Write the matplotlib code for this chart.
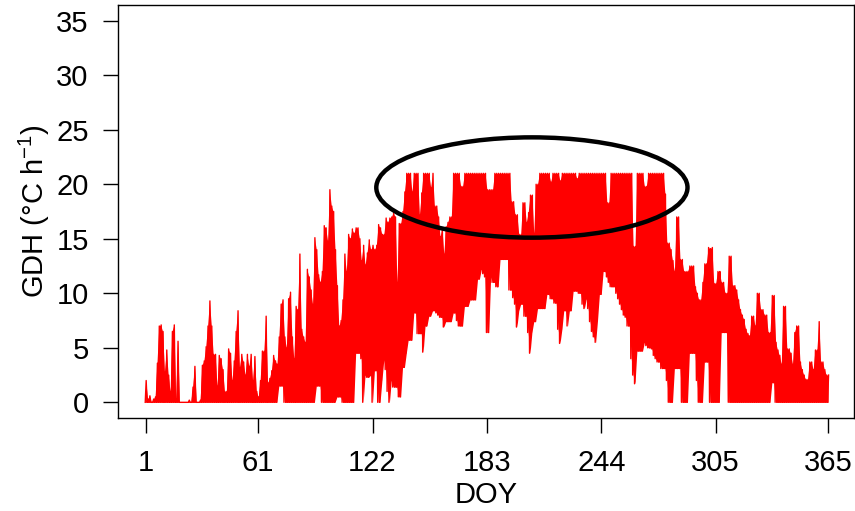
import numpy as np
import matplotlib
matplotlib.use("Agg")
import matplotlib.pyplot as plt
from matplotlib.patches import Ellipse

plt.rcParams['font.family'] = ['Liberation Sans', 'DejaVu Sans']
plt.rcParams['mathtext.fontset'] = 'custom'
plt.rcParams['mathtext.rm'] = 'Liberation Sans'
plt.rcParams['mathtext.it'] = 'Liberation Sans'

# daily upper envelope of hourly GDH, DOY 1..365
gdh_max = [
    2.0, 0.3, 0.6, 0.0, 0.3, 0.5, 3.6, 7.0, 7.1, 6.5,
    2.8, 4.8, 2.5, 1.0, 6.5, 7.1, 0.3, 5.6, 0.0, 0.0,
    0.0, 0.0, 0.0, 0.2, 0.0, 1.4, 3.3, 0.0, 0.0, 0.2,
    3.4, 3.8, 5.1, 7.0, 9.3, 7.0, 4.4, 4.4, 1.5, 4.3,
    4.0, 3.0, 1.0, 1.0, 4.9, 4.5, 2.0, 3.8, 6.5, 8.4,
    3.2, 4.4, 3.7, 2.5, 4.4, 3.3, 4.4, 2.0, 4.2, 1.0,
    0.5, 2.0, 4.7, 4.7, 7.9, 1.8, 2.2, 2.9, 4.3, 3.8,
    3.5, 6.0, 9.0, 9.4, 6.0, 5.0, 9.5, 10.1, 6.0, 4.0,
    8.8, 8.5, 13.6, 6.7, 6.0, 5.5, 12.2, 11.5, 10.3, 9.0,
    15.1, 14.0, 11.7, 11.0, 12.0, 16.2, 16.0, 14.8, 19.5, 18.0,
    17.5, 14.0, 10.7, 7.0, 7.5, 9.4, 13.6, 12.0, 15.4, 15.0,
    15.9, 15.5, 16.0, 16.0, 15.0, 13.0, 14.4, 12.6, 13.7, 14.9,
    14.0, 14.4, 14.0, 14.4, 16.3, 16.0, 15.4, 15.4, 16.9, 16.5,
    16.9, 17.0, 17.4, 17.0, 11.0, 16.4, 16.4, 17.5, 19.3, 21.0,
    21.0, 21.0, 19.3, 21.0, 21.0, 21.0, 17.2, 19.2, 21.0, 21.0,
    21.0, 21.0, 19.7, 21.0, 18.0, 18.0, 17.0, 15.2, 16.0, 13.6,
    16.1, 16.5, 17.0, 17.0, 21.0, 21.0, 21.0, 21.0, 19.8, 19.8,
    21.0, 21.0, 21.0, 21.0, 21.0, 21.0, 21.0, 21.0, 21.0, 21.0,
    21.0, 21.0, 19.5, 19.5, 19.5, 19.5, 21.0, 21.0, 21.0, 21.0,
    21.0, 21.0, 21.0, 21.0, 21.0, 18.4, 18.4, 17.2, 17.2, 15.4,
    15.4, 18.3, 18.3, 16.5, 17.4, 19.0, 19.0, 15.5, 20.0, 20.0,
    21.0, 21.0, 21.0, 21.0, 21.0, 21.0, 20.2, 21.0, 21.0, 21.0,
    21.0, 20.3, 21.0, 21.0, 21.0, 21.0, 21.0, 21.0, 21.0, 21.0,
    20.5, 21.0, 21.0, 21.0, 21.0, 21.0, 21.0, 21.0, 21.0, 21.0,
    21.0, 21.0, 21.0, 21.0, 21.0, 21.0, 18.3, 18.3, 21.0, 21.0,
    21.0, 21.0, 21.0, 21.0, 21.0, 21.0, 21.0, 21.0, 21.0, 21.0,
    14.3, 14.3, 21.0, 21.0, 21.0, 21.0, 19.8, 19.8, 21.0, 21.0,
    21.0, 21.0, 21.0, 21.0, 21.0, 21.0, 21.0, 19.1, 14.6, 14.6,
    14.0, 13.0, 12.0, 17.0, 17.0, 13.1, 13.1, 12.0, 12.0, 12.0,
    12.5, 12.5, 12.5, 10.6, 10.0, 9.4, 9.4, 11.0, 12.7, 12.7,
    14.2, 14.1, 14.2, 10.9, 10.9, 12.0, 12.0, 11.0, 11.0, 10.0,
    10.0, 13.4, 13.4, 10.7, 10.7, 10.3, 9.4, 8.5, 8.0, 7.6,
    6.7, 6.3, 6.1, 7.9, 7.9, 7.0, 10.0, 10.0, 8.5, 8.5,
    8.0, 8.0, 6.4, 6.4, 9.8, 9.8, 5.5, 4.8, 4.3, 3.5,
    8.8, 8.8, 4.9, 4.9, 4.5, 3.5, 6.4, 7.0, 7.0, 3.7,
    3.0, 2.5, 2.1, 2.1, 3.7, 3.7, 3.0, 4.8, 4.8, 7.4,
    3.7, 3.7, 3.0, 2.5, 2.5,
]

# daily lower envelope (night-time GDH)
gdh_min = [
    0.0, 0.0, 0.0, 0.0, 0.0, 0.0, 0.0, 0.0, 0.0, 0.0,
    0.0, 0.0, 0.0, 0.0, 0.0, 0.0, 0.0, 0.0, 0.0, 0.0,
    0.0, 0.0, 0.0, 0.0, 0.0, 0.0, 0.0, 0.0, 0.0, 0.0,
    0.0, 0.0, 0.0, 0.0, 0.0, 0.0, 0.0, 0.0, 0.0, 0.0,
    0.0, 0.0, 0.0, 0.0, 0.0, 0.0, 0.0, 0.0, 0.0, 0.0,
    0.0, 0.0, 0.0, 0.0, 0.0, 0.0, 0.0, 0.0, 0.0, 0.0,
    0.0, 0.0, 0.0, 0.0, 0.0, 0.0, 0.0, 0.0, 0.0, 0.0,
    0.0, 1.5, 1.5, 1.5, 0.0, 0.0, 0.0, 0.0, 0.0, 0.0,
    0.0, 0.0, 0.0, 0.0, 0.0, 0.0, 0.0, 0.0, 0.0, 0.0,
    0.0, 1.5, 1.5, 1.5, 0.0, 0.0, 0.0, 0.0, 0.0, 0.0,
    0.0, 0.0, 0.5, 0.5, 0.5, 0.0, 0.0, 0.0, 0.0, 0.0,
    0.0, 0.0, 4.5, 4.5, 4.5, 4.0, 0.0, 2.5, 2.3, 2.3,
    2.5, 0.0, 2.9, 2.9, 0.0, 0.0, 2.0, 3.9, 3.0, 1.0,
    0.0, 2.0, 1.4, 1.4, 1.4, 0.5, 0.5, 3.2, 3.2, 4.5,
    5.7, 5.7, 5.7, 8.2, 8.2, 6.3, 6.3, 6.3, 4.6, 7.0,
    7.0, 7.9, 7.9, 8.4, 8.4, 8.2, 8.0, 7.8, 7.8, 6.9,
    7.4, 7.4, 7.4, 7.4, 8.2, 8.2, 7.5, 7.0, 7.0, 7.0,
    8.8, 8.8, 8.8, 9.4, 9.4, 9.4, 9.4, 11.3, 11.3, 12.2,
    11.8, 11.5, 6.4, 6.4, 11.5, 11.0, 11.0, 10.6, 10.6, 13.1,
    13.1, 13.1, 13.1, 13.1, 10.3, 10.3, 9.6, 9.0, 6.9, 8.4,
    9.0, 9.0, 7.9, 7.9, 6.4, 4.5, 6.4, 7.4, 7.4, 8.6,
    8.6, 8.6, 8.6, 8.6, 9.9, 9.9, 9.5, 9.5, 9.1, 9.1,
    6.7, 5.4, 6.7, 8.4, 8.4, 7.0, 8.4, 8.4, 10.2, 10.2,
    10.2, 10.0, 10.0, 9.0, 8.6, 9.5, 8.6, 7.4, 6.5, 6.0,
    5.5, 7.5, 9.9, 9.9, 12.0, 12.0, 11.5, 11.0, 10.6, 10.6,
    10.6, 10.0, 9.5, 9.0, 8.5, 8.0, 7.8, 7.0, 7.0, 4.0,
    2.5, 1.7, 4.7, 4.7, 4.7, 4.7, 5.5, 5.2, 5.0, 5.0,
    4.9, 4.3, 4.0, 3.7, 3.7, 3.1, 3.1, 3.1, 2.0, 0.0,
    0.0, 0.0, 3.1, 3.1, 3.1, 3.1, 0.0, 0.0, 0.0, 0.0,
    4.5, 4.5, 4.5, 4.5, 2.0, 0.0, 0.0, 0.0, 3.7, 3.7,
    3.7, 0.0, 0.0, 0.0, 0.0, 0.0, 0.0, 6.4, 6.4, 6.4,
    6.4, 0.0, 0.0, 0.0, 0.0, 0.0, 0.0, 0.0, 0.0, 0.0,
    0.0, 0.0, 0.0, 0.0, 0.0, 0.0, 0.0, 0.0, 0.0, 0.0,
    0.0, 0.0, 0.0, 0.0, 1.8, 1.8, 0.0, 0.0, 0.0, 0.0,
    0.0, 0.0, 0.0, 0.0, 0.0, 0.0, 0.0, 0.0, 0.0, 0.0,
    0.0, 0.0, 0.0, 0.0, 0.0, 0.0, 0.0, 0.0, 0.0, 0.0,
    0.0, 0.0, 0.0, 0.0, 0.0,
]

doy = np.arange(1, len(gdh_max) + 1)
xticks = [1, 61, 122, 183, 244, 305, 365]
yticks = [0, 5, 10, 15, 20, 25, 30, 35]

# highlighted plateau (ellipse annotation)
ell_center = (207, 19.7)
ell_w, ell_h = 166, 9.2

hi = np.array(gdh_max)
lo = np.array(gdh_min)

fig = plt.figure(figsize=(8.55, 5.11), dpi=100)
ax = fig.add_axes([0.1384, 0.1828, 0.8604, 0.8066])

# hourly trace drawn as a zig-zag night-min -> day-max for each day
xz = np.column_stack([doy - 0.25, doy + 0.25]).ravel()
yz = np.column_stack([lo, hi]).ravel()
ax.fill_between(doy, lo, hi, color='red', lw=0)
ax.plot(xz, yz, color='red', lw=1.0)

ax.add_patch(Ellipse(ell_center, ell_w, ell_h, fill=False, ec='black',
                     lw=3.2, zorder=5))

ax.set_xlim(-13.6, 378.8)
ax.set_ylim(-1.4, 36.4)
ax.set_xticks(xticks)
ax.set_yticks(yticks)
ax.tick_params(direction='out', length=10.8, width=1, labelsize=21)
ax.tick_params(axis='x', pad=11.5)
ax.tick_params(axis='y', pad=10.5)
for s in ax.spines.values():
    s.set_linewidth(1)
ax.set_xlabel('DOY', fontsize=21, labelpad=3)
ax.set_ylabel('GDH (°C h$^{-1}$)', fontsize=21, labelpad=3)

fig.savefig('out.png', dpi=100)
